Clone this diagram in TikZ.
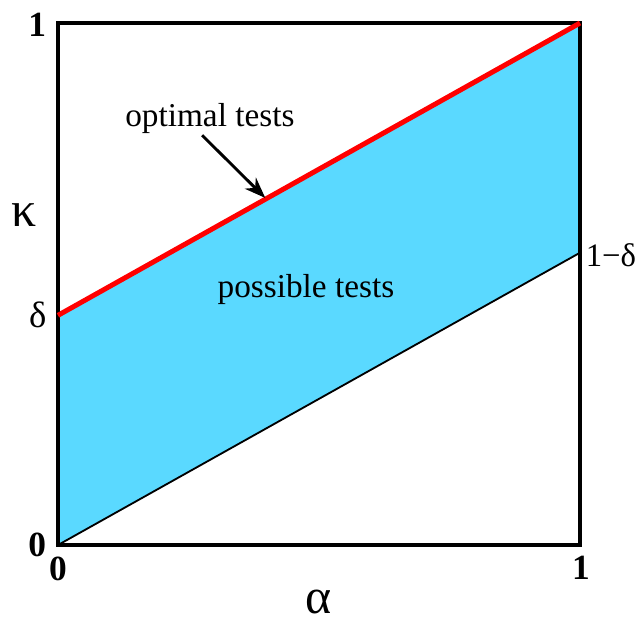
\documentclass[tikz,border=0pt]{standalone}
\usepackage{fontspec}
\setmainfont{Liberation Serif}
\usepackage{xcolor}
\usepackage{tikz}
\usetikzlibrary{arrows.meta}
\definecolor{RegionFill}{HTML}{5AD9FF}
\definecolor{OptimalRed}{HTML}{FF0000}
\tikzset{
  figure/.style={x=7cm,y=7cm,font=\fontsize{12.7}{14}\selectfont},
  frame/.style={draw=black,line width=1.5pt},
  tick/.style={font=\fontsize{13.5}{15}\selectfont\bfseries},
  greek/.style={font=\fontsize{19}{21}\selectfont,inner sep=0pt},
  pointer/.style={-{Stealth[length=8pt,width=6pt]},line width=1.1pt},
}

\begin{document}
\begin{tikzpicture}[figure]
  \useasboundingbox (-0.1111,-0.1475) rectangle (1.1130,1.0441);

  % region between the two lines
  \fill[RegionFill] (0,0) -- (0,0.44) -- (1,1) -- (1,0.56) -- cycle;
  \draw[line width=0.7pt] (0,0) -- (1,0.56);
  \draw[frame] (0,0) rectangle (1,1);
  \draw[OptimalRed,line width=1.9pt] (0,0.44) -- (1,1);

  \node[tick] (yone) at (-0.040,0.996) {1};
  \node[tick] (yzero) at (-0.040,0) {0};
  \node[tick] (xzero) at (0,-0.046) {0};
  \node[tick] (xone) at (1.002,-0.044) {1};
  \node[greek] (kappa) at (-0.065,0.632) {κ};
  \node[greek] (alpha) at (0.5,-0.110) {α};
  \node[font=\fontsize{14}{16}\selectfont,anchor=east,inner sep=0pt] (delta) at (-0.021,0.44) {δ};
  \node[font=\fontsize{12.5}{15}\selectfont,anchor=west,inner sep=0pt] (onedelta) at (1.010,0.556) {1−δ};

  \node (possible) at (0.475,0.490) {possible tests};
  \node (optimal) at (0.291,0.818) {optimal tests};
  \coordinate (tail) at (0.276,0.785);
  \coordinate (tip) at (0.397,0.665);
  \draw[pointer] (tail) -- (tip);
\end{tikzpicture}
\end{document}
